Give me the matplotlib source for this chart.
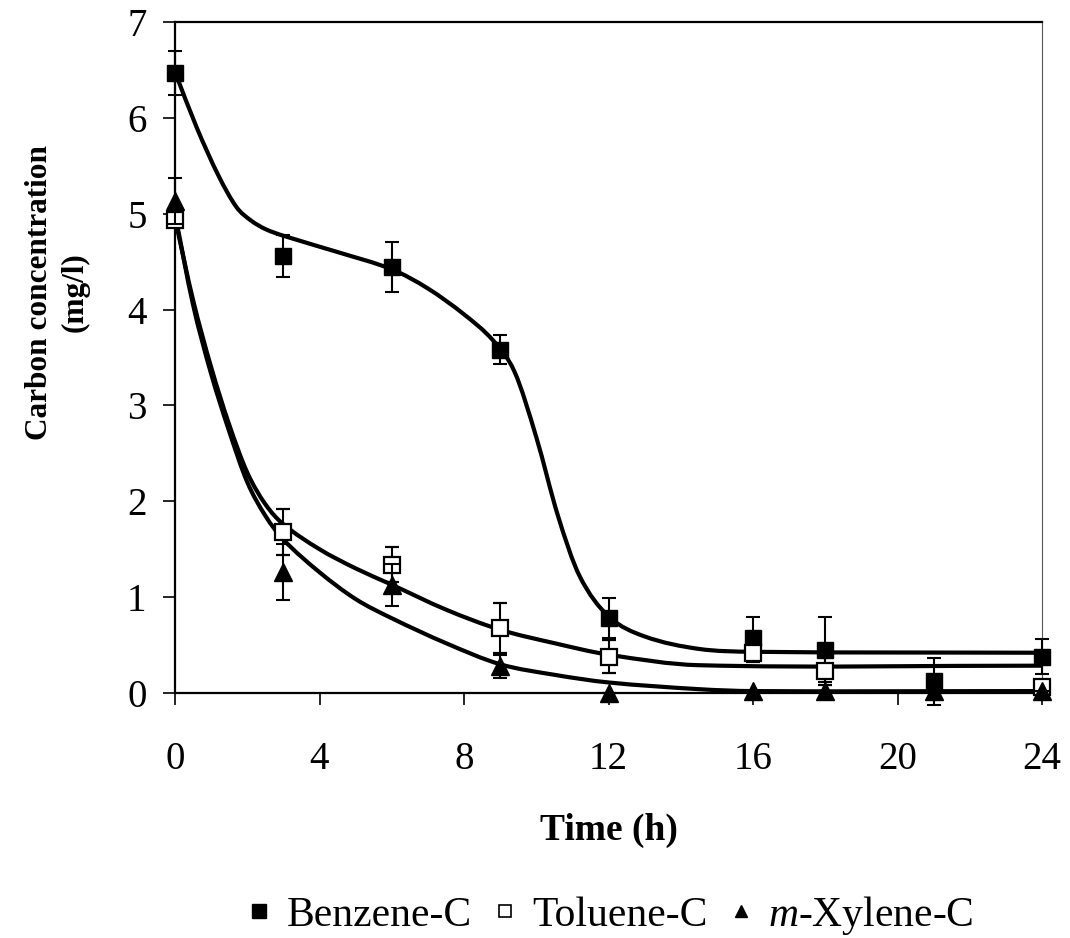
import matplotlib
matplotlib.use('Agg')
import matplotlib.pyplot as plt
import numpy as np
from matplotlib.path import Path
from matplotlib.patches import PathPatch
from matplotlib.lines import Line2D

plt.rcParams['font.family'] = ['Liberation Serif', 'DejaVu Serif']
plt.rcParams['mathtext.fontset'] = 'custom'
plt.rcParams['mathtext.rm'] = 'Liberation Serif'
plt.rcParams['mathtext.it'] = 'Liberation Serif:italic'

# measured points (h, mg/l) and error bars
time = [0, 3, 6, 9, 12, 16, 18, 21, 24]
benzene = [6.47, 4.56, 4.44, 3.58, 0.78, 0.57, 0.45, 0.12, 0.38]
benzene_err = [0.23, 0.22, 0.26, 0.15, 0.21, 0.22, 0.34, 0.25, 0.18]
toluene = [4.93, 1.68, 1.34, 0.68, 0.38, 0.42, 0.23, np.nan, 0.06]
toluene_err = [0.05, 0.24, 0.18, 0.26, 0.17, 0.10, 0.15, np.nan, 0.05]
xylene = [5.13, 1.26, 1.13, 0.28, 0.0, 0.02, 0.02, 0.02, 0.02]
xylene_err = [0.24, 0.29, 0.22, 0.12, 0.0, 0.0, 0.0, 0.0, 0.0]

# fitted trend curves
benz_fit_t = [0, 0.6, 1.2, 1.7, 2.1, 2.5, 3.0, 4.5, 6.0, 7.0, 8.0, 8.8, 9.4,
              10.0, 10.6, 11.2, 12.0, 13.0, 14.5, 16.0, 24]
benz_fit_c = [6.48, 5.9, 5.4, 5.07, 4.93, 4.84, 4.77, 4.6, 4.42, 4.22, 3.95, 3.68, 3.35,
              2.67, 1.85, 1.22, 0.80, 0.59, 0.46, 0.43, 0.42]
tol_fit_t = [0, 0.5, 1.0, 1.5, 2.0, 2.5, 3.0, 4.0, 5.0, 6.0, 7.5, 9.0, 10.5, 12.0, 14.5, 24]
tol_fit_c = [4.95, 4.1, 3.4, 2.8, 2.3, 1.97, 1.76, 1.50, 1.30, 1.13, 0.87, 0.66, 0.52, 0.40,
             0.29, 0.285]
xyl_fit_t = [0, 0.5, 1.0, 1.5, 2.0, 2.5, 3.0, 4.0, 5.0, 6.0, 7.5, 9.0, 10.5, 12.0, 14.5, 16, 24]
xyl_fit_c = [5.0, 4.05, 3.33, 2.73, 2.2, 1.85, 1.6, 1.26, 0.98, 0.78, 0.52, 0.30, 0.19, 0.11,
             0.04, 0.02, 0.02]

x_ticks = [0, 4, 8, 12, 16, 20, 24]
y_ticks = [0, 1, 2, 3, 4, 5, 6, 7]


def smooth_path(xs, ys):
    # cubic bezier segments, catmull-rom style slopes
    xs = np.asarray(xs, float)
    ys = np.asarray(ys, float)
    n = len(xs)
    m = np.empty(n)
    m[0] = (ys[1] - ys[0]) / (xs[1] - xs[0])
    m[-1] = (ys[-1] - ys[-2]) / (xs[-1] - xs[-2])
    m[1:-1] = (ys[2:] - ys[:-2]) / (xs[2:] - xs[:-2])
    verts = [(xs[0], ys[0])]
    codes = [Path.MOVETO]
    for i in range(n - 1):
        dx = xs[i + 1] - xs[i]
        verts += [(xs[i] + dx / 3, ys[i] + m[i] * dx / 3),
                  (xs[i + 1] - dx / 3, ys[i + 1] - m[i + 1] * dx / 3),
                  (xs[i + 1], ys[i + 1])]
        codes += [Path.CURVE4] * 3
    return Path(verts, codes)


fig = plt.figure(figsize=(10.7, 9.38), dpi=100)
ax = fig.add_axes([175 / 1070, 1 - 693 / 938, 867 / 1070, 671 / 938])

for tt, cc in [(benz_fit_t, benz_fit_c), (tol_fit_t, tol_fit_c), (xyl_fit_t, xyl_fit_c)]:
    ax.add_patch(PathPatch(smooth_path(tt, cc), fill=False, lw=3, edgecolor='black',
                           capstyle='round', joinstyle='round', zorder=2))

err_kw = dict(ecolor='black', elinewidth=1.5, capsize=5, capthick=1.5, ls='none')
ax.errorbar(time, benzene, yerr=benzene_err, marker='s', ms=12, mfc='black', mec='black',
            zorder=3, clip_on=False, **err_kw)
ax.errorbar(time, toluene, yerr=toluene_err, marker='s', ms=11, mfc='white', mec='black',
            mew=1.6, zorder=4, clip_on=False, **err_kw)
ax.errorbar(time, xylene, yerr=xylene_err, marker='^', ms=13, mfc='black', mec='black',
            zorder=5, clip_on=False, **err_kw)

ax.set_xlim(0, 24)
ax.set_ylim(0, 7)
ax.set_xticks(x_ticks)
ax.set_yticks(y_ticks)
ax.tick_params(direction='out', length=8.5, width=1.2, labelsize=28)
ax.tick_params(axis='x', pad=26)
ax.tick_params(axis='y', pad=12)

for side in ['left', 'bottom', 'top']:
    ax.spines[side].set_linewidth(1.6)
ax.spines['right'].set_linewidth(0.8)
ax.spines['right'].set_color('#555555')

ax.set_xlabel('Time (h)', fontsize=27, fontweight='bold', labelpad=25)
fig.text(57 / 1070, 1 - 292 / 938, 'Carbon concentration\n(mg/l)', rotation=90,
         ha='center', va='center', fontsize=22.5, fontweight='bold', multialignment='center',
         linespacing=1.3)

handles = [
    Line2D([], [], ls='none', marker='s', ms=10, mfc='black', mec='black'),
    Line2D([], [], ls='none', marker='s', ms=8, mfc='white', mec='black', mew=1.2),
    Line2D([], [], ls='none', marker='^', ms=9, mfc='black', mec='black'),
]
labels = ['Benzene-C', 'Toluene-C', r'$\it{m}$-Xylene-C']
fig.legend(handles, labels, loc='center', bbox_to_anchor=(610 / 1070, 1 - 915 / 938),
           ncol=3, frameon=False, fontsize=30, handlelength=0.6, handletextpad=0.35,
           columnspacing=0.5, borderaxespad=0)

fig.savefig('out.png', dpi=100)
